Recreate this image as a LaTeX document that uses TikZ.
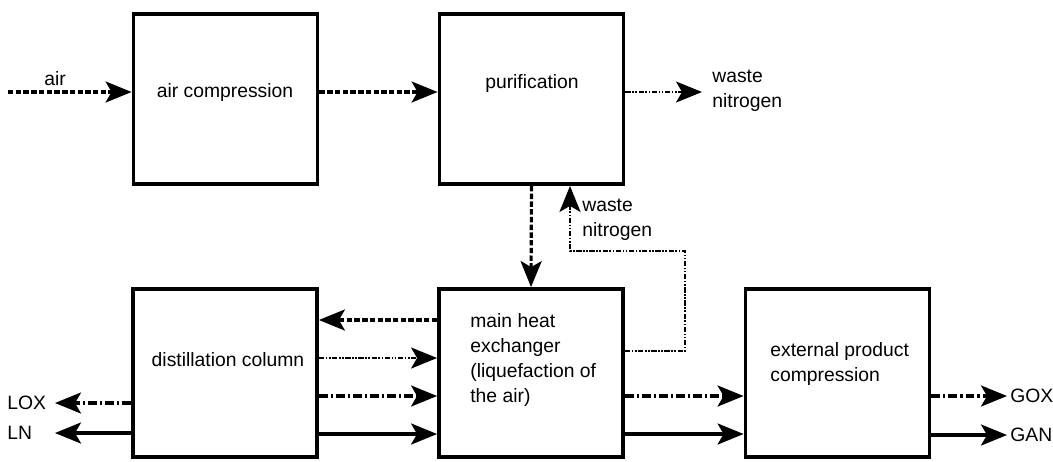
\documentclass[tikz,border=0pt]{standalone}
\usepackage{fontspec}
\setmainfont{Liberation Sans}
\usetikzlibrary{arrows.meta}

\begin{document}
\begin{tikzpicture}[x=0.02cm, y=-0.02cm,
             > = {Stealth[length=5.2mm, width=4.2mm, inset=1.2mm]},
     unit/.style = {draw, line width=2.2pt, minimum width=3.68cm, inner sep=0pt},
   toprow/.style = {unit, minimum height=3.4cm},
   botrow/.style = {unit, minimum height=3.36cm},
      txt/.style = {font=\fontsize{11}{14.2}\selectfont, align=left, inner sep=0pt},
   stream/.style = {->, line width=1.8pt},
  airflow/.style = {stream, dash pattern=on 3.1pt off 1.3pt},
   oxflow/.style = {stream, dash pattern=on 5pt off 1.7pt on 1.3pt off 1.7pt},
nitroflow/.style = {stream},
wasteflow/.style = {->, line width=1.2pt, dash pattern=on 3pt off 0.9pt on 0.9pt off 0.9pt on 0.9pt off 0.9pt}
                        ]
\useasboundingbox (0,0) rectangle (1053,461);
% units
    \node[toprow] (comp) at (225.5,99) {};
    \node[toprow] (puri) at (531.5,99) {};
    \node[botrow] (dist) at (225,373) {};
    \node[botrow] (mhe)  at (531,373) {};
    \node[botrow] (epc)  at (837.5,373) {};
    \node[txt] (compT) at (225,92) {air compression};
    \node[txt] (puriT) at (532,83) {purification};
    \node[txt] (distT) at (228,360) {distillation column};
    \node[txt, anchor=west] (mheT) at (470,360) {main heat\\exchanger\\(liquefaction of\\the air)};
    \node[txt, anchor=west] (epcT) at (770,364) {external product\\compression};
% stream labels
    \node[txt] (airT) at (55,79) {air};
    \node[txt, anchor=west] (wasteT) at (712,91) {waste\\nitrogen};
    \node[txt, anchor=west] (retT) at (582,220) {waste\\nitrogen};
    \node[txt, anchor=west] (loxT) at (7,403) {LOX};
    \node[txt, anchor=west] (lnT) at (7,433) {LN};
    \node[txt, anchor=west] (goxT) at (1010,396) {GOX};
    \node[txt, anchor=west] (ganT) at (1010,435) {GAN};
% stream levels
    \coordinate (air)   at (8,92);
    \coordinate (waste) at (702,92);
    \coordinate (bend1) at (685,351);
    \coordinate (bend2) at (570,251);
    \coordinate (r1) at (0,320);
    \coordinate (r2) at (0,358);
    \coordinate (r3) at (0,396);
    \coordinate (r4) at (0,434);
    \coordinate (lox) at (55,403);
    \coordinate (ln)  at (55,433);
    \coordinate (gox) at (1007,396);
    \coordinate (gan) at (1007,435);
% streams
    \draw[airflow] (air) -- (air -| comp.west);
    \draw[airflow] (air -| comp.east) -- (air -| puri.west);
    \draw[wasteflow] (air -| puri.east) -- (waste);
    \draw[airflow] (puri.south) -- (mhe.north);
    \draw[wasteflow] (mhe.east |- bend1) -- (bend1) |- (bend2) -- (bend2 |- puri.south);
    \draw[airflow] (mhe.west |- r1) -- (dist.east |- r1);
    \draw[wasteflow] (dist.east |- r2) -- (mhe.west |- r2);
    \draw[oxflow] (dist.east |- r3) -- (mhe.west |- r3);
    \draw[nitroflow] (dist.east |- r4) -- (mhe.west |- r4);
    \draw[oxflow] (mhe.east |- r3) -- (epc.west |- r3);
    \draw[nitroflow] (mhe.east |- r4) -- (epc.west |- r4);
    \draw[oxflow] (epc.east |- gox) -- (gox);
    \draw[nitroflow] (epc.east |- gan) -- (gan);
    \draw[oxflow] (dist.west |- lox) -- (lox);
    \draw[nitroflow] (dist.west |- ln) -- (ln);
\end{tikzpicture}
\end{document}
